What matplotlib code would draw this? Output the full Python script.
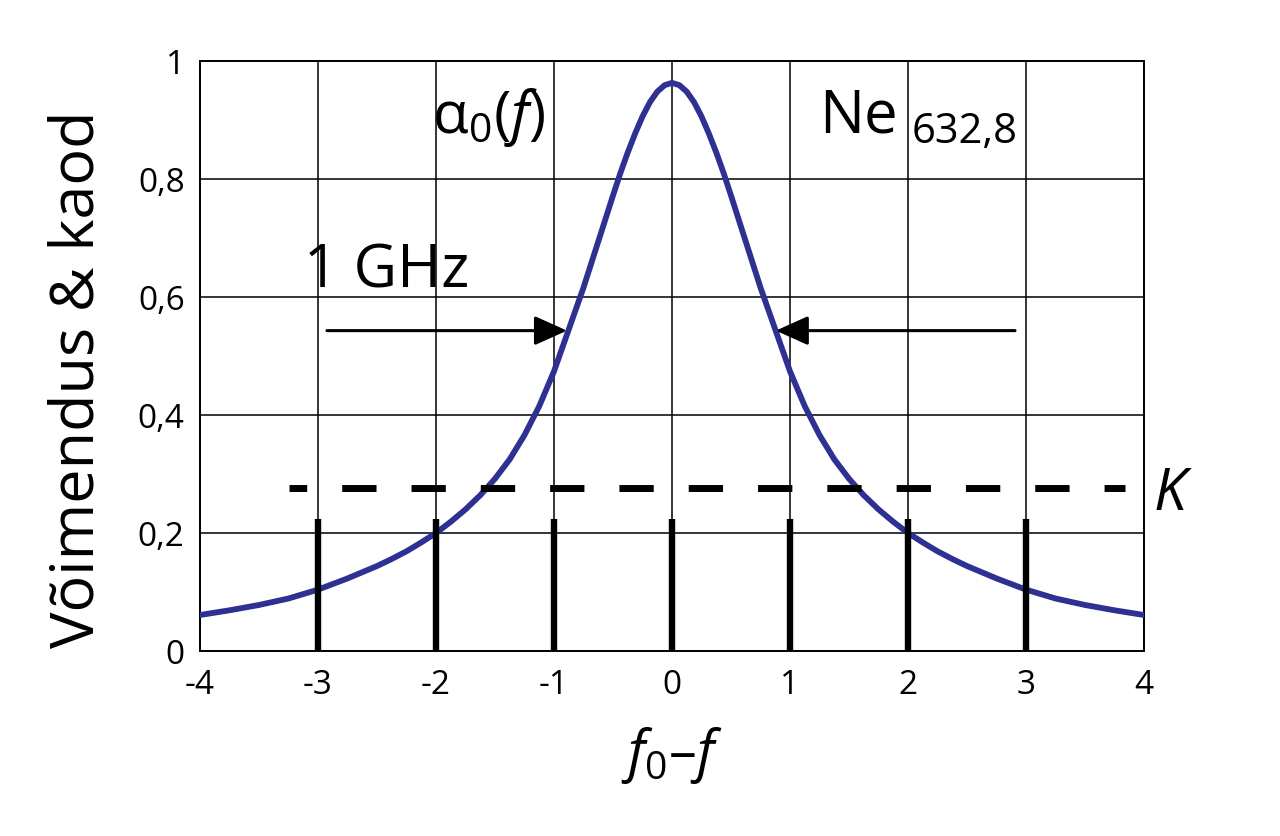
import matplotlib
matplotlib.use("Agg")
import matplotlib.pyplot as plt

plt.rcParams['font.family'] = ['Open Sans', 'DejaVu Sans']
plt.rcParams['mathtext.fontset'] = 'custom'
plt.rcParams['mathtext.rm'] = 'Open Sans'
plt.rcParams['mathtext.it'] = 'Open Sans:italic'
plt.rcParams['mathtext.bf'] = 'Open Sans:bold'

# gain curve (right half, mirrored for the left)
x_half = [0.0, 0.0625, 0.125, 0.1875, 0.25, 0.3125, 0.375, 0.4375, 0.5,
          0.5625, 0.625, 0.6875, 0.75, 0.875, 1.0, 1.125, 1.25, 1.375, 1.5,
          1.625, 1.75, 1.875, 2.0, 2.125, 2.25, 2.375, 2.5, 2.75, 3.0, 3.25,
          3.5, 3.75, 4.0]
y_half = [0.963, 0.959, 0.948, 0.930, 0.906, 0.877, 0.845, 0.810, 0.772,
          0.733, 0.694, 0.655, 0.616, 0.545, 0.474, 0.415, 0.366, 0.325, 0.292,
          0.264, 0.240, 0.219, 0.200, 0.184, 0.169, 0.156, 0.144, 0.123, 0.104,
          0.089, 0.078, 0.069, 0.061]
x_curve = [-v for v in x_half[:0:-1]] + x_half
y_curve = y_half[:0:-1] + y_half

# longitudinal modes
mode_x = [-3, -2, -1, 0, 1, 2, 3]
mode_h = 0.224

# losses level K
loss_level = 0.276
loss_x = [-3.246, 3.84]

# half-width arrows
arrow_y = 0.543
arrow_left = (-2.924, -0.89)
arrow_right = (2.907, 0.88)

x_ticks = [-4, -3, -2, -1, 0, 1, 2, 3, 4]
x_labels = ['-4', '-3', '-2', '-1', '0', '1', '2', '3', '4']
y_ticks = [0, 0.2, 0.4, 0.6, 0.8, 1.0]
y_labels = ['0', '0,2', '0,4', '0,6', '0,8', '1']

fig = plt.figure(figsize=(12.8, 8.37), dpi=100)
ax = fig.add_axes([200 / 1280, 1 - 652 / 837, 944 / 1280, 590 / 837])

ax.set_xlim(-4, 4)
ax.set_ylim(0, 1)
ax.set_xticks(x_ticks)
ax.set_xticklabels(x_labels)
ax.set_yticks(y_ticks)
ax.set_yticklabels(y_labels)
ax.tick_params(length=0, labelsize=24)
ax.tick_params(axis='x', pad=12)
ax.tick_params(axis='y', pad=11)
ax.grid(True, color='black', linewidth=1.1)
ax.set_axisbelow(True)
for sp in ax.spines.values():
    sp.set_linewidth(1.4)

ax.plot(x_curve, y_curve, color='#2E3192', linewidth=4.2, zorder=3,
        solid_joinstyle='round')

ax.vlines(mode_x, 0, mode_h, color='black', linewidth=4.6, zorder=4)

ax.plot(loss_x, [loss_level, loss_level], color='black', linewidth=5,
        linestyle=(2.39, (4.94, 5.04)), zorder=4)

for x0, x1 in (arrow_left, arrow_right):
    ax.annotate('', xy=(x1, arrow_y), xytext=(x0, arrow_y),
                arrowprops=dict(arrowstyle='-|>,head_length=1.0,head_width=0.45',
                                color='black', linewidth=2.2,
                                shrinkA=0, shrinkB=0, mutation_scale=20),
                zorder=5)

ax.text(-2.03, 0.88, r'$\mathrm{\alpha}_0(f)$', fontsize=42, ha='left',
        va='baseline')
ax.text(1.25, 0.88, 'Ne', fontsize=43, ha='left', va='baseline')
ax.text(2.03, 0.863, '632,8', fontsize=30, ha='left', va='baseline')
ax.text(-3.12, 0.617, '1 GHz', fontsize=43, ha='left', va='baseline')
ax.text(4.08, 0.241, 'K', fontsize=42, style='italic', ha='left',
        va='baseline', clip_on=False)
ax.text(0, -0.2, r'$f_0$–$f$', fontsize=40, ha='center', va='baseline',
        clip_on=False)

fig.text(78 / 1280, 1 - 379 / 837, 'Võimendus & kaod', fontsize=44,
         rotation=90, ha='center', va='center')

fig.savefig('out.png', dpi=100, facecolor='white')
